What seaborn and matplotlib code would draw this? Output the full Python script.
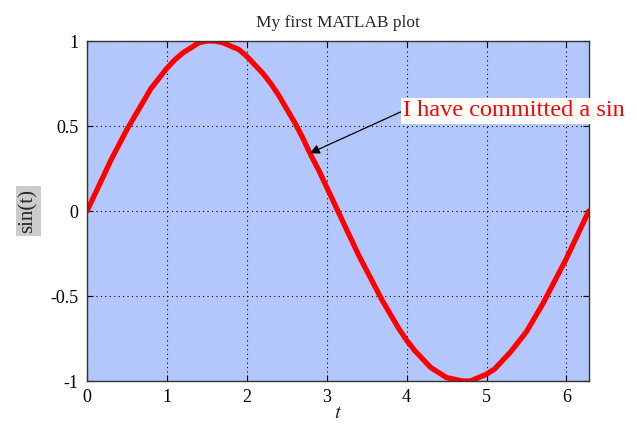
import numpy as np
import pandas as pd
import seaborn as sns
import matplotlib.pyplot as plt

# values
t_vals = [0.0, 0.1, 0.2, 0.3, 0.4, 0.5, 0.6, 0.7, 0.8, 0.9, 1.0, 1.1, 1.2, 1.3,
          1.4, 1.5, 1.6, 1.7, 1.8, 1.9, 2.0, 2.1, 2.2, 2.3, 2.4, 2.5, 2.6, 2.7,
          2.8, 2.9, 3.0, 3.1, 3.2, 3.3, 3.4, 3.5, 3.6, 3.7, 3.8, 3.9, 4.0, 4.1,
          4.2, 4.3, 4.4, 4.5, 4.6, 4.7, 4.8, 4.9, 5.0, 5.1, 5.2, 5.3, 5.4, 5.5,
          5.6, 5.7, 5.8, 5.9, 6.0, 6.1, 6.2, 6.28]
y_vals = [0.00, 0.10, 0.20, 0.30, 0.39, 0.48, 0.56, 0.64, 0.72, 0.78, 0.84, 0.89,
          0.93, 0.96, 0.99, 1.00, 1.00, 0.99, 0.97, 0.95, 0.91, 0.86, 0.81, 0.75,
          0.68, 0.60, 0.52, 0.43, 0.33, 0.24, 0.14, 0.04, -0.06, -0.16, -0.26,
          -0.35, -0.44, -0.53, -0.61, -0.69, -0.76, -0.82, -0.87, -0.92, -0.95,
          -0.98, -0.99, -1.00, -1.00, -0.98, -0.96, -0.93, -0.88, -0.83, -0.77,
          -0.71, -0.63, -0.55, -0.46, -0.37, -0.28, -0.18, -0.08, 0.00]
x_ticks = [0, 1, 2, 3, 4, 5, 6]
y_ticks = [-1, -0.5, 0, 0.5, 1]
y_tick_labels = ["-1", "-0.5", "0", "0.5", "1"]

df = pd.DataFrame({"t": t_vals, "y": y_vals})

sns.set_style("ticks")
plt.rcParams["font.family"] = ["Liberation Serif", "DejaVu Serif"]
plt.rcParams["mathtext.fontset"] = "stix"
plt.rcParams["path.simplify"] = False

fig = plt.figure(figsize=(6.37, 4.28), dpi=100)
ax = fig.add_axes([0.1366, 0.1098, 0.7881, 0.7944])
ax.set_facecolor("#b3c7fc")

sns.lineplot(data=df, x="t", y="y", ax=ax, color="red", linewidth=3.8,
             sort=False, estimator=None)
line = ax.get_lines()[0]
line.set_solid_joinstyle("round")
line.set_antialiased(True)

ax.set_xlim(0, 6.2832)
ax.set_ylim(-1, 1)
ax.set_xticks(x_ticks)
ax.set_yticks(y_ticks)
ax.set_yticklabels(y_tick_labels)
ax.grid(True, color="black", linestyle=(0, (1, 3)), linewidth=0.8)
ax.tick_params(direction="in", top=True, right=True, length=4,
               labelsize=13, colors="black", pad=6)
for sp in ax.spines.values():
    sp.set_color("#333333")
    sp.set_linewidth(1.0)

ax.set_title("My first MATLAB plot", fontsize=12.5, pad=10)
ax.set_xlabel("$t$", fontsize=15, labelpad=-2)
ax.set_ylabel("sin(t)", fontsize=15, labelpad=9,
              bbox=dict(facecolor="#cccccc", edgecolor="none", pad=2))

ax.annotate("I have committed a sin", xy=(2.79, 0.34), xytext=(3.96, 0.59),
            color="red", fontsize=17.5, ha="left", va="center",
            bbox=dict(facecolor="white", edgecolor="none", pad=2),
            arrowprops=dict(arrowstyle="-|>", color="black", lw=0.9,
                            mutation_scale=14, shrinkA=0, shrinkB=0,
                            relpos=(0, 0.5)))

fig.savefig("out.png", dpi=100)
